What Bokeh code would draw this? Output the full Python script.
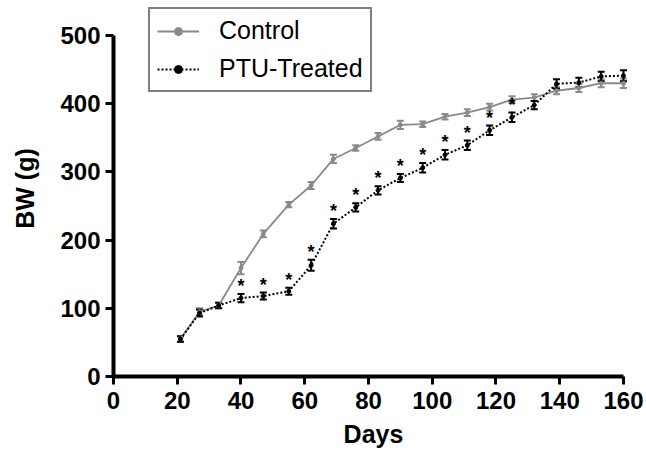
from bokeh.plotting import figure
from bokeh.models import ColumnDataSource, Whisker, TeeHead, Legend, LegendItem, FixedTicker
from bokeh.core.properties import value
from bokeh.embed import file_html
from bokeh.resources import INLINE

days = [21, 27, 33, 40, 47, 55, 62, 69, 76, 83, 90, 97, 104, 111, 118, 125, 132, 139, 146, 153, 160]
control = [55, 95, 104, 159, 209, 252, 280, 319, 335, 352, 369, 370, 381, 387, 395, 406, 409, 419, 423, 430, 430]
control_sem = [4, 5, 4, 9, 5, 4, 5, 6, 4, 5, 6, 4, 4, 5, 5, 5, 5, 5, 6, 6, 7]
ptu = [55, 93, 104, 115, 118, 125, 163, 224, 248, 273, 291, 306, 325, 339, 361, 380, 398, 429, 431, 440, 441]
ptu_sem = [4, 5, 4, 6, 5, 5, 8, 7, 6, 6, 6, 7, 7, 7, 7, 7, 6, 7, 7, 7, 8]
star_days = [40, 47, 55, 62, 69, 76, 83, 90, 97, 104, 111, 118, 125]
x_ticks = [0, 20, 40, 60, 80, 100, 120, 140, 160]
y_ticks = [0, 100, 200, 300, 400, 500]

GRAY = "#8a8a8a"
FONT = "Liberation Sans"

p = figure(width=646, height=455, x_range=(0, 163.14), y_range=(0, 551.3),
           output_backend="svg", toolbar_location=None,
           min_border_left=113, min_border_right=13, min_border_top=0, min_border_bottom=79)
p.grid.visible = False
p.outline_line_color = None

c_src = ColumnDataSource(dict(x=days, y=control,
                              lo=[v - e for v, e in zip(control, control_sem)],
                              hi=[v + e for v, e in zip(control, control_sem)]))
t_src = ColumnDataSource(dict(x=days, y=ptu,
                              lo=[v - e for v, e in zip(ptu, ptu_sem)],
                              hi=[v + e for v, e in zip(ptu, ptu_sem)]))

c_line = p.line("x", "y", source=c_src, line_color=GRAY, line_width=1.8)
c_pts = p.scatter("x", "y", source=c_src, size=4, color=GRAY)
p.add_layout(Whisker(source=c_src, base="x", lower="lo", upper="hi", line_color=GRAY, line_width=2,
                     upper_head=TeeHead(size=7, line_color=GRAY, line_width=2),
                     lower_head=TeeHead(size=7, line_color=GRAY, line_width=2)))

t_line = p.line("x", "y", source=t_src, line_color="black", line_width=2, line_dash="2 2")
t_pts = p.scatter("x", "y", source=t_src, size=4, color="black")
p.add_layout(Whisker(source=t_src, base="x", lower="lo", upper="hi", line_color="black", line_width=2,
                     upper_head=TeeHead(size=7, line_color="black", line_width=2),
                     lower_head=TeeHead(size=7, line_color="black", line_width=2)))

star_y = [ptu[days.index(d)] + ptu_sem[days.index(d)] for d in star_days]
p.text(x=star_days, y=star_y, text=["*"] * len(star_days), text_align="center",
       text_baseline="bottom", text_font=value(FONT), text_font_size="18px",
       text_font_style="bold", text_color="black", y_offset=2)

for ax in (p.xaxis[0], p.yaxis[0]):
    ax.axis_line_width = 4
    ax.major_tick_line_width = 3
    ax.major_tick_out = 8
    ax.major_tick_in = 0
    ax.minor_tick_line_color = None
    ax.major_label_text_font = FONT
    ax.major_label_text_font_style = "bold"
    ax.major_label_text_font_size = "24px"
    ax.major_label_text_color = "black"
    ax.axis_label_text_font = FONT
    ax.axis_label_text_font_style = "bold"
    ax.axis_label_text_font_size = "25px"
    ax.axis_label_text_color = "black"

p.xaxis.ticker = FixedTicker(ticks=x_ticks)
p.yaxis.ticker = FixedTicker(ticks=y_ticks)
p.xaxis.bounds = (0, 160)
p.yaxis.bounds = (0, 500)
p.xaxis.axis_label = "Days"
p.yaxis.axis_label = "BW (g)"
p.xaxis.major_label_standoff = 7
p.yaxis.major_label_standoff = 5
p.xaxis.axis_label_standoff = 8
p.yaxis.axis_label_standoff = 18

legend = Legend(items=[LegendItem(label="Control", renderers=[c_line, c_pts]),
                       LegendItem(label="PTU-Treated", renderers=[t_line, t_pts])],
                location=(35, 284), orientation="vertical",
                label_text_font=FONT, label_text_font_size="25px", label_text_color="black",
                glyph_width=42, label_standoff=20, padding=7, spacing=9,
                border_line_color="black", border_line_width=2.5, background_fill_alpha=1)
p.add_layout(legend)

open("out.html", "w").write(file_html(p, INLINE))
